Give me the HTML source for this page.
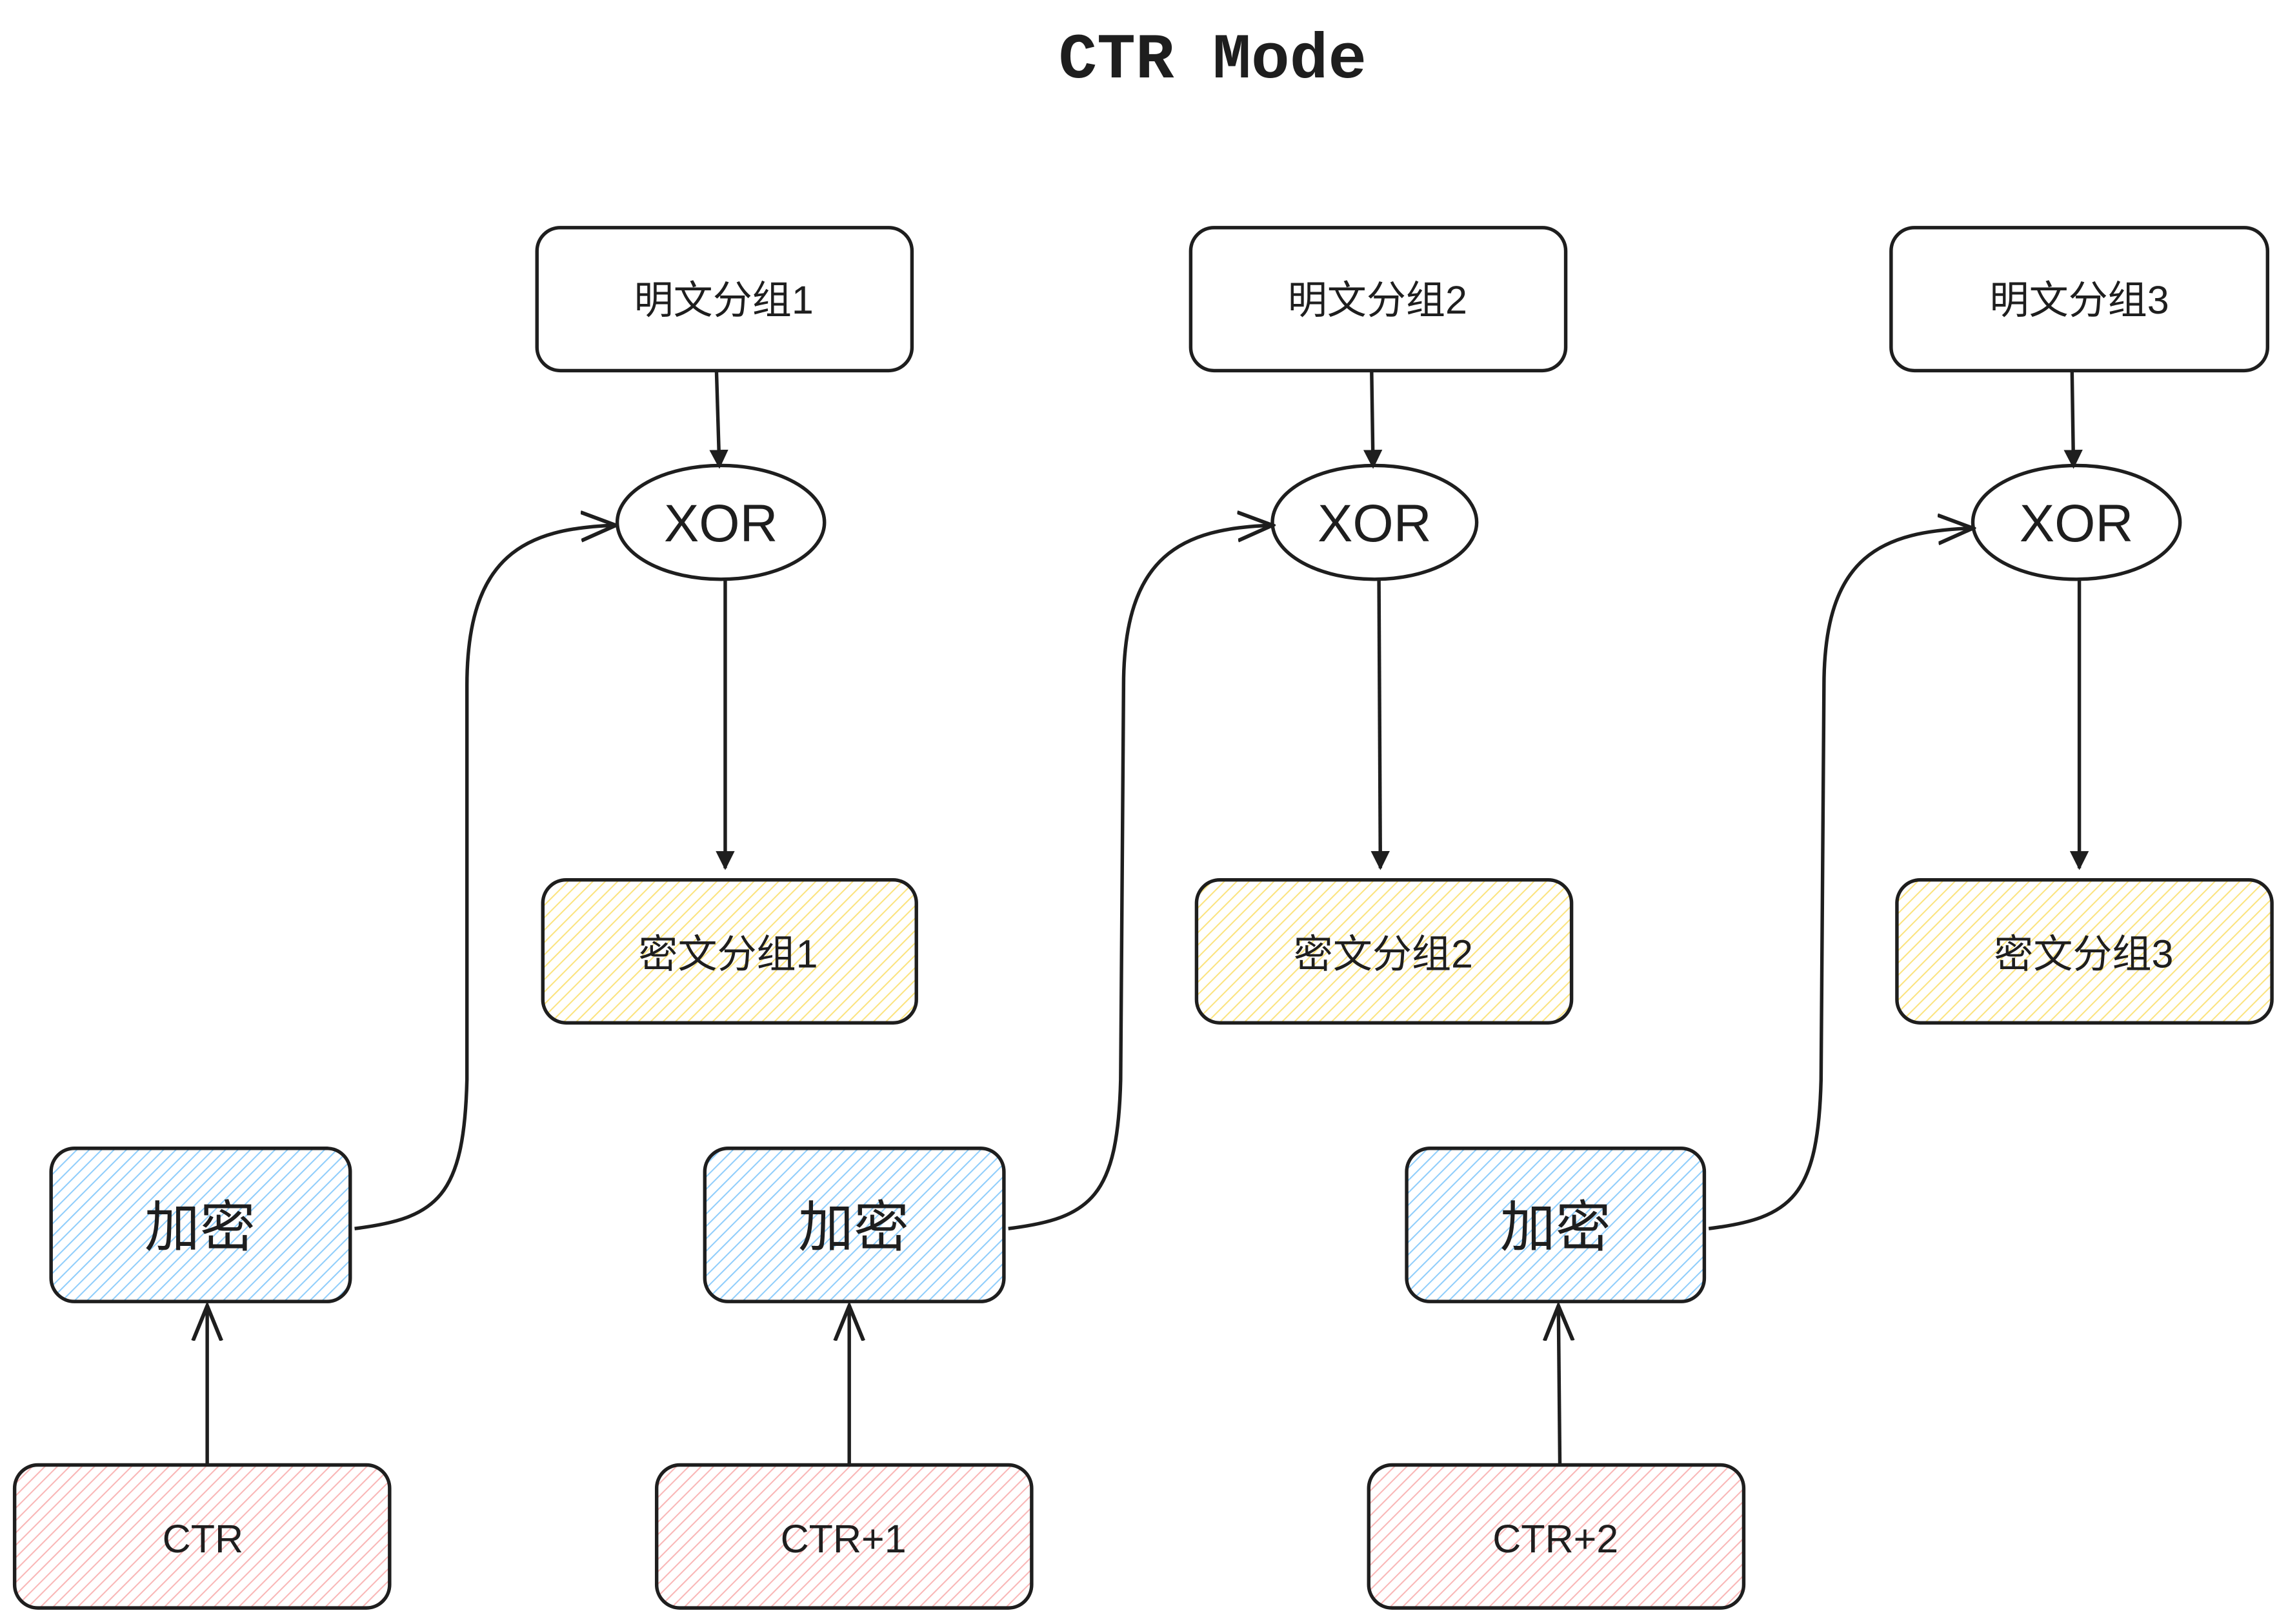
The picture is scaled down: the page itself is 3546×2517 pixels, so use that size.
<!DOCTYPE html>
<html><head><meta charset="utf-8"><style>
html,body{margin:0;padding:0;background:#fff;}
svg{display:block;}
text{font-family:"Liberation Sans","Noto Sans CJK SC",sans-serif;fill:#1e1e1e;}
</style></head><body>
<svg width="3546" height="2517" viewBox="0 0 1568 1113" xmlns="http://www.w3.org/2000/svg">
<defs>
<pattern id="hb" width="6" height="6" patternUnits="userSpaceOnUse" patternTransform="rotate(45)"><line x1="0" y1="0" x2="0" y2="6" stroke="#8fcdfb" stroke-width="1.8"/></pattern>
<pattern id="hy" width="6" height="6" patternUnits="userSpaceOnUse" patternTransform="rotate(45)"><line x1="0" y1="0" x2="0" y2="6" stroke="#fbe37e" stroke-width="1.8"/></pattern>
<pattern id="hp" width="6" height="6" patternUnits="userSpaceOnUse" patternTransform="rotate(45)"><line x1="0" y1="0" x2="0" y2="6" stroke="#f9b6b6" stroke-width="1.8"/></pattern>
<marker id="ar" viewBox="0 0 10 10" refX="9" refY="5" markerWidth="13" markerHeight="13" orient="auto" markerUnits="userSpaceOnUse"><path d="M0,0 L10,5 L0,10 z" fill="#1e1e1e"/></marker>
<marker id="ao" viewBox="0 0 24 20" refX="22" refY="10" markerWidth="26" markerHeight="22" orient="auto" markerUnits="userSpaceOnUse"><path d="M0,1 L22,10 L0,19" fill="none" stroke="#1e1e1e" stroke-width="2.4"/></marker>
</defs>
<rect width="1568" height="1113" fill="#fff"/>
<text x="831" y="53" text-anchor="middle" font-size="44" font-weight="bold" style="font-family:'Liberation Mono',monospace">CTR Mode</text>
<g stroke="#1e1e1e" stroke-width="2.4" fill="none">
<rect x="368" y="156" width="257" height="98" rx="16"/>
<ellipse cx="494" cy="358" rx="71" ry="39" fill="#fff"/>
<rect x="372" y="603" width="256" height="98" rx="16" fill="url(#hy)"/>
<rect x="35" y="787" width="205" height="105" rx="16" fill="url(#hb)"/>
<rect x="10" y="1004" width="257" height="98" rx="16" fill="url(#hp)"/>
<line x1="491" y1="254" x2="493" y2="320" marker-end="url(#ar)"/>
<line x1="497" y1="398" x2="497" y2="595" marker-end="url(#ar)"/>
<line x1="142" y1="1004" x2="142" y2="895" marker-end="url(#ao)"/>
<path d="M243,842 C300,835 318,820 320,740 L320,470 C320,380 360,362 422,360" marker-end="url(#ao)"/>
<rect x="816" y="156" width="257" height="98" rx="16"/>
<ellipse cx="942" cy="358" rx="70" ry="39" fill="#fff"/>
<rect x="820" y="603" width="257" height="98" rx="16" fill="url(#hy)"/>
<rect x="483" y="787" width="205" height="105" rx="16" fill="url(#hb)"/>
<rect x="450" y="1004" width="257" height="98" rx="16" fill="url(#hp)"/>
<line x1="940" y1="254" x2="941" y2="320" marker-end="url(#ar)"/>
<line x1="945" y1="398" x2="946" y2="595" marker-end="url(#ar)"/>
<line x1="582" y1="1004" x2="582" y2="895" marker-end="url(#ao)"/>
<path d="M691,842 C748,835 766,820 768,740 L770,470 C770,380 810,362 872,360" marker-end="url(#ao)"/>
<rect x="1296" y="156" width="258" height="98" rx="16"/>
<ellipse cx="1423" cy="358" rx="71" ry="39" fill="#fff"/>
<rect x="1300" y="603" width="257" height="98" rx="16" fill="url(#hy)"/>
<rect x="964" y="787" width="204" height="105" rx="16" fill="url(#hb)"/>
<rect x="938" y="1004" width="257" height="98" rx="16" fill="url(#hp)"/>
<line x1="1420" y1="254" x2="1421" y2="320" marker-end="url(#ar)"/>
<line x1="1425" y1="398" x2="1425" y2="595" marker-end="url(#ar)"/>
<line x1="1069" y1="1004" x2="1068" y2="895" marker-end="url(#ao)"/>
<path d="M1171,842 C1228,835 1246,820 1248,740 L1250,470 C1250,380 1290,364 1352,362" marker-end="url(#ao)"/>
</g>
<g font-size="27" text-anchor="middle">
<text x="496" y="215">明文分组1</text>
<text x="944" y="215">明文分组2</text>
<text x="1425" y="215">明文分组3</text>
<text x="499" y="663">密文分组1</text>
<text x="948" y="663">密文分组2</text>
<text x="1428" y="663">密文分组3</text>
<text x="139" y="1064">CTR</text>
<text x="578" y="1064">CTR+1</text>
<text x="1066" y="1064">CTR+2</text>
</g>
<g font-size="36" text-anchor="middle">
<text x="494" y="371">XOR</text>
<text x="942" y="371">XOR</text>
<text x="1423" y="371">XOR</text>
</g>
<g font-size="38" text-anchor="middle">
<text x="137" y="854">加密</text>
<text x="585" y="854">加密</text>
<text x="1066" y="854">加密</text>
</g>
</svg>
</body></html>
